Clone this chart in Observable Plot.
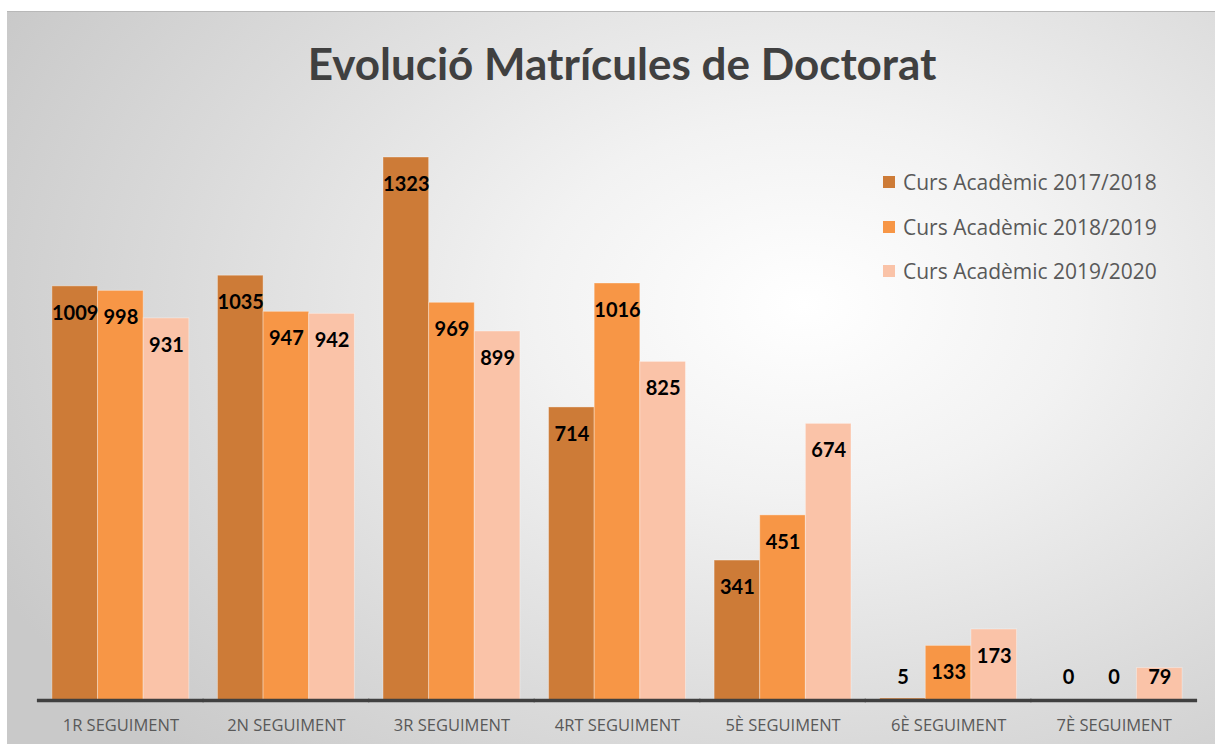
<!DOCTYPE html>
<html>
<head>
<meta charset="utf-8">
<script src="https://cdn.jsdelivr.net/npm/d3@7"></script>
<script src="https://cdn.jsdelivr.net/npm/@observablehq/plot@0.6"></script>
<style>
  html, body { margin: 0; padding: 0; background: #ffffff; width: 1215px; height: 744px; overflow: hidden; }
  #frame {
    position: absolute; left: 7px; top: 11px; width: 1208px; height: 733px;
    border-top: 1.5px solid #b8b8b8;
    background: radial-gradient(ellipse 75% 85% at 66% 40%, #ffffff 0%, #f2f2f2 30%, #dadada 70%, #c9c9c9 100%);
    font-family: Lato, "Open Sans", sans-serif;
  }
  #title {
    position: absolute; left: 0; width: 1230px; top: 25px; text-align: center;
    font-family: Lato, sans-serif; font-weight: 700; font-size: 44px; color: #404040;
  }
  #legend { position: absolute; left: 876px; top: 148px; }
  .item { display: flex; align-items: center; height: 44.5px; font-size: 21px; color: #595959; font-family: "Open Sans", Lato, sans-serif; }
  .sw { width: 12px; height: 12px; margin-right: 8px; }
  #chart { position: absolute; left: 0; top: 129px; }
</style>
</head>
<body>
<div id="frame">
  <div id="title">Evolució Matrícules de Doctorat</div>
  <div id="legend"></div>
  <div id="chart"></div>
</div>
<script>
const categories = ["1R SEGUIMENT", "2N SEGUIMENT", "3R SEGUIMENT", "4RT SEGUIMENT", "5È SEGUIMENT", "6È SEGUIMENT", "7È SEGUIMENT"];
const series = ["Curs Acadèmic 2017/2018", "Curs Acadèmic 2018/2019", "Curs Acadèmic 2019/2020"];
const values2017 = [1009, 1035, 1323, 714, 341, 5, 0];
const values2018 = [998, 947, 969, 1016, 451, 133, 0];
const values2019 = [931, 942, 899, 825, 674, 173, 79];
const colors = ["#cd7b37", "#f79646", "#fac3a8"];

const seriesValues = [values2017, values2018, values2019];
const data = [];
categories.forEach((c, i) => {
  series.forEach((s, j) => data.push({category: c, series: s, value: seriesValues[j][i]}));
});

const legend = document.getElementById("legend");
series.forEach((s, j) => {
  const it = document.createElement("div");
  it.className = "item";
  it.innerHTML = `<span class="sw" style="background:${colors[j]}"></span><span>${s}</span>`;
  legend.appendChild(it);
});

const chart = Plot.plot({
  width: 1208,
  height: 604,
  marginLeft: 30,
  marginRight: 18,
  marginTop: 16,
  marginBottom: 45,
  style: {background: "transparent", fontFamily: "Lato, 'Open Sans', sans-serif"},
  fx: {domain: categories, round: false, paddingInner: 0.173, paddingOuter: 0.09, axis: "bottom", label: null, tickSize: 0, tickPadding: 19},
  x: {domain: series, axis: null, padding: 0, round: false},
  y: {domain: [0, 1323], axis: null},
  color: {domain: series, range: colors},
  marks: [
    Plot.barY(data, {fx: "category", x: "series", y: "value", fill: "series", stroke: "#ffffff", strokeOpacity: 0.35, strokeWidth: 1}),
    Plot.ruleY([0], {stroke: "#404040", strokeWidth: 3.5, insetLeft: -15, insetRight: -15}),
    Plot.text(data, {fx: "category", x: "series", y: d => Math.max(d.value, 122), dy: 27, text: d => String(d.value), fill: "#000000", fontWeight: "bold", fontSize: 20, fontFamily: "Lato, sans-serif"})
  ]
});
chart.querySelectorAll("[aria-label='fx-axis tick label'] text, g[aria-label='fx-axis tick label'] text").forEach(t => {
  t.setAttribute("font-size", "16.5");
  t.setAttribute("fill", "#595959");
  t.style.fontSize = "16.5px";
  t.style.fill = "#595959";
  t.style.fontFamily = "'Open Sans', sans-serif";
});
document.getElementById("chart").appendChild(chart);
</script>
</body>
</html>
